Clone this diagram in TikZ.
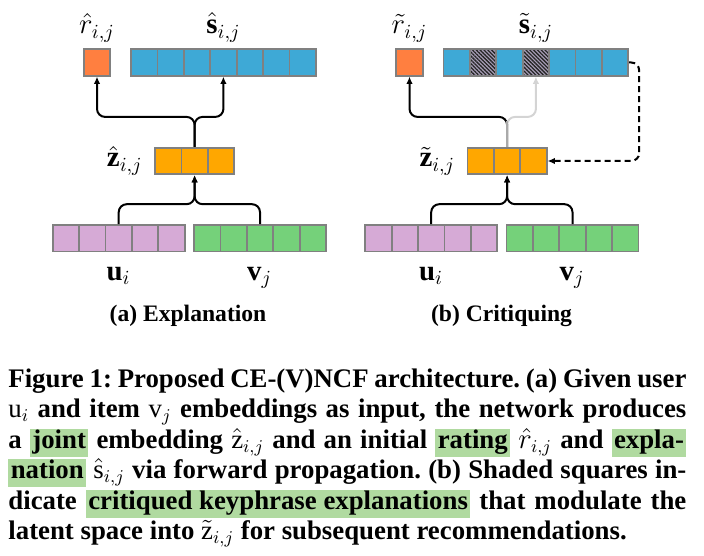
\documentclass[tikz,border=0pt]{standalone}
\usepackage{amsmath,amssymb}
\usepackage{fontspec}
\setmainfont{Liberation Serif}
\usetikzlibrary{arrows.meta}
\usetikzlibrary{patterns.meta}

\definecolor{ratecol}{RGB}{255,127,64}
\definecolor{expcol}{RGB}{62,169,214}
\definecolor{latcol}{RGB}{255,167,0}
\definecolor{usercol}{RGB}{214,170,214}
\definecolor{itemcol}{RGB}{117,209,122}
\definecolor{hatchcol}{RGB}{168,158,184}
\definecolor{cellborder}{RGB}{128,128,128}
\definecolor{trunkgray}{RGB}{170,170,170}
\definecolor{palegray}{RGB}{212,212,212}
\definecolor{hlgreen}{RGB}{176,218,160}

\newcommand{\hlbox}[1]{{\setlength{\fboxsep}{0pt}\colorbox{hlgreen}{\rule[-4.4pt]{0pt}{14pt}\hspace{1.2pt}#1\hspace{1.2pt}}}}
\newcommand{\capline}[1]{\makebox[339pt][s]{#1}}

\begin{document}
\begin{tikzpicture}[x=0.5pt,y=-0.5pt,
    cell/.style={draw=cellborder, line width=0.9pt, minimum size=13.2pt, inner sep=0pt},
    hatched/.style={cell, preaction={fill=hatchcol}, pattern={Lines[angle=-45,distance=1.35pt,line width=0.65pt]}, pattern color=black!85},
    link/.style={line width=1pt, rounded corners=4pt, -{Latex[length=3.6pt,width=3.2pt]}},
    lbl/.style={font=\fontsize{14.4}{17}\selectfont, inner sep=0pt},
    sub/.style={font=\bfseries\fontsize{11.8}{14}\selectfont, inner sep=0pt},
    capnode/.style={font=\bfseries\frenchspacing\fontsize{13.4}{15}\selectfont, inner sep=0pt, anchor=base west}]

  \useasboundingbox (0,0) rectangle (704,555);

  % both panels share the cell layout, (b) is shifted right
  \foreach \p/\dx in {a/0,b/312.5}{
    \node[cell, fill=ratecol] (r\p) at ({97+\dx},62.5) {};
    \foreach \k in {1,...,7}
      \node[cell, fill=expcol] (s\p\k) at ({117.8+26.4*\k+\dx},62.5) {};
    \foreach \k in {1,2,3}
      \node[cell, fill=latcol] (z\p\k) at ({141.8+26.4*\k+\dx},161) {};
    \foreach \k in {1,...,5}{
      \node[cell, fill=usercol] (u\p\k) at ({39.5+26.4*\k+\dx},238.3) {};
      \node[cell, fill=itemcol] (v\p\k) at ({180.8+26.4*\k+\dx},238.3) {};
    }
    \draw[link] (u\p3.north) -- ++(0,-20) -| (z\p2.south);
    \draw[link] (v\p3.north) -- ++(0,-20) -| (z\p2.south);
  }

  % critiqued keyphrases
  \node[hatched] (cb2) at (sb2) {};
  \node[hatched] (cb4) at (sb4) {};

  % (a) explanation
  \draw[link] (za2.north) -- ++(0,-30) -| (ra.south);
  \draw[link] (za2.north) -- ++(0,-30) -| (sa4.south);
  \node[lbl, anchor=base] (rhat) at (97,34) {$\hat{r}_{i,j}$};
  \node[lbl, anchor=base] (shat) at (223.5,34) {$\hat{\mathbf{s}}_{i,j}$};
  \node[lbl, anchor=base east] (zhat) at (143,167) {$\hat{\mathbf{z}}_{i,j}$};
  \node[lbl, anchor=base] (ulbl) at (118.5,280) {$\mathbf{u}_i$};
  \node[lbl, anchor=base] (vlbl) at (259.5,280) {$\mathbf{v}_j$};
  \node[sub, anchor=base] (suba) at (188,321.5) {(a) Explanation};

  % (b) critiquing
  \draw[link, draw=palegray] (zb2.north) -- ++(0,-30) -| (sb4.south);
  \draw[link] (zb2.north) -- ++(0,-30) -| (rb.south);
  \draw[line width=1pt, draw=trunkgray] (zb2.north) -- ++(0,-26);
  \draw[link, dash pattern=on 3pt off 2pt] (sb7.east) -- ++(10,0) |- (zb3.east);
  \node[lbl, anchor=base] (rtil) at (409.5,34) {$\tilde{r}_{i,j}$};
  \node[lbl, anchor=base] (stil) at (536,34) {$\tilde{\mathbf{s}}_{i,j}$};
  \node[lbl, anchor=base east] (ztil) at (455.5,167) {$\tilde{\mathbf{z}}_{i,j}$};
  \node[lbl, anchor=base] (ulbl2) at (431,280) {$\mathbf{u}_i$};
  \node[lbl, anchor=base] (vlbl2) at (572,280) {$\mathbf{v}_j$};
  \node[sub, anchor=base] (subb) at (501.5,321.5) {(b) Critiquing};

  % caption
  \node[capnode] (cap1) at (8,387) {\capline{Figure 1: Proposed CE-(V)NCF architecture. (a) Given user}};
  \node[capnode] (cap2) at (8,417.5) {\capline{$\mathrm{u}_i$ and item $\mathrm{v}_j$ embeddings as input, the network produces}};
  \node[capnode] (cap3) at (8,448) {\capline{a \hlbox{joint} embedding $\hat{\mathrm{z}}_{i,j}$ and an initial \hlbox{rating} $\hat{r}_{i,j}$ and \hlbox{expla-}}};
  \node[capnode] (cap4) at (8,478.5) {\capline{\hlbox{nation} $\hat{\mathrm{s}}_{i,j}$ via forward propagation. (b) Shaded squares in-}};
  \node[capnode] (cap5) at (8,509) {\capline{dicate \hlbox{critiqued keyphrase explanations} that modulate the}};
  \node[capnode] (cap6) at (8,539.5) {latent space into $\tilde{\mathrm{z}}_{i,j}$ for subsequent recommendations.};
\end{tikzpicture}
\end{document}
